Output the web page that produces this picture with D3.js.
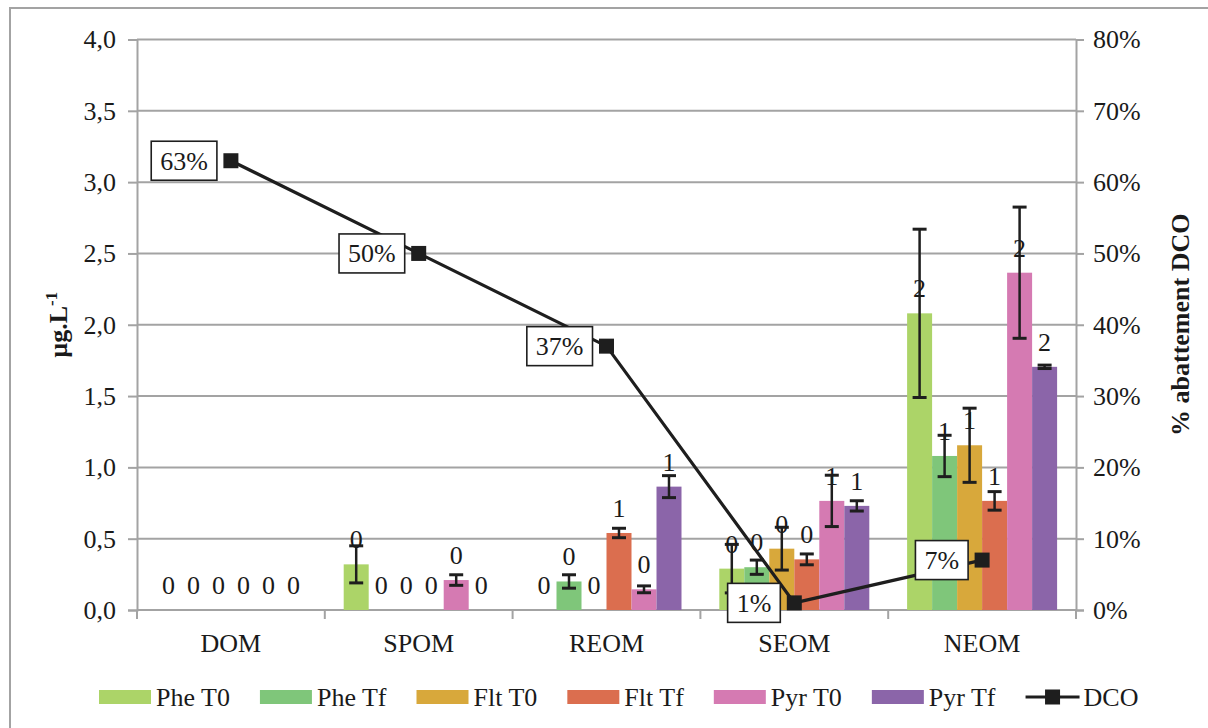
<!DOCTYPE html>
<html>
<head>
<meta charset="utf-8">
<script src="https://cdn.jsdelivr.net/npm/d3@7"></script>
<style>
  html, body { margin: 0; padding: 0; background: #fff; }
  svg { display: block; }
  text { font-family: "Liberation Serif", "Times New Roman", serif; fill: #1a1a1a; }
</style>
</head>
<body>
<svg id="chart" width="1208" height="728"></svg>
<script>
// ---------- DATA ----------
const categories = ["DOM", "SPOM", "REOM", "SEOM", "NEOM"];
const seriesNames = ["Phe T0", "Phe Tf", "Flt T0", "Flt Tf", "Pyr T0", "Pyr Tf"];
const seriesColors = ["#acd468", "#7fc67a", "#d8a83b", "#db6e4f", "#d57ab2", "#8b65a9"];

const pheT0 = [0, 0.32, 0, 0.29, 2.08];
const pheTf = [0, 0, 0.20, 0.30, 1.08];
const fltT0 = [0, 0, 0, 0.43, 1.155];
const fltTf = [0, 0, 0.54, 0.355, 0.765];
const pyrT0 = [0, 0.21, 0.145, 0.765, 2.365];
const pyrTf = [0, 0, 0.865, 0.73, 1.705];

const pheT0Err = [0, 0.13, 0, 0.17, 0.59];
const pheTfErr = [0, 0, 0.047, 0.05, 0.145];
const fltT0Err = [0, 0, 0, 0.15, 0.26];
const fltTfErr = [0, 0, 0.033, 0.038, 0.065];
const pyrT0Err = [0, 0.037, 0.024, 0.18, 0.46];
const pyrTfErr = [0, 0, 0.077, 0.036, 0.012];

const dco = [0.63, 0.50, 0.37, 0.01, 0.07];   // % abattement DCO

const leftTicks = [0, 0.5, 1.0, 1.5, 2.0, 2.5, 3.0, 3.5, 4.0];
const rightTicks = [0, 0.1, 0.2, 0.3, 0.4, 0.5, 0.6, 0.7, 0.8];

const leftTitle = "µg.L";
const leftTitleSup = "-1";
const rightTitle = "% abattement DCO";
const dcoName = "DCO";

// ---------- BUILD ----------
const values = [pheT0, pheTf, fltT0, fltTf, pyrT0, pyrTf];
const errors = [pheT0Err, pheTfErr, fltT0Err, fltTfErr, pyrT0Err, pyrTfErr];

const svg = d3.select("#chart");
const W = 1208, H = 728;
const m = { left: 137, right: 1076, top: 39.5, bottom: 610 };
const FS = 26;
const gray = "#a3a3a3";

// chart frame
svg.append("rect").attr("x", 10).attr("y", 8).attr("width", W + 20).attr("height", H + 20)
  .attr("fill", "#fff").attr("stroke", gray).attr("stroke-width", 2);

const x = d3.scaleBand().domain(categories).range([m.left, m.right]).paddingInner(0).paddingOuter(0);
const xs = d3.scaleBand().domain(seriesNames).range([0, x.bandwidth()]).paddingInner(0).paddingOuter(0.756);
const y = d3.scaleLinear().domain([0, 4]).range([m.bottom, m.top]);
const y2 = d3.scaleLinear().domain([0, 0.8]).range([m.bottom, m.top]);

const locale = d3.formatLocale({ decimal: ",", thousands: " ", grouping: [3], currency: ["", "€"] });
const fmt1 = locale.format(".1f");
const fmtPct = d3.format(".0%");
const fmtInt = d3.format(".0f");

// gridlines
svg.append("g").selectAll("line").data(leftTicks).join("line")
  .attr("x1", m.left).attr("x2", m.right)
  .attr("y1", d => y(d)).attr("y2", d => y(d))
  .attr("stroke", gray).attr("stroke-width", 2);

// left axis
const gL = svg.append("g").attr("transform", `translate(${m.left},0)`)
  .call(d3.axisLeft(y).tickValues(leftTicks).tickFormat(fmt1).tickSize(9).tickPadding(12));
gL.select(".domain").attr("stroke", gray).attr("stroke-width", 2);
gL.selectAll(".tick line").attr("stroke", gray).attr("stroke-width", 2);
gL.selectAll(".tick text").attr("font-size", FS).attr("font-family", "Liberation Serif").attr("fill", "#1a1a1a");

// right axis
const gR = svg.append("g").attr("transform", `translate(${m.right},0)`)
  .call(d3.axisRight(y2).tickValues(rightTicks).tickFormat(fmtPct).tickSize(8).tickPadding(9));
gR.select(".domain").attr("stroke", gray).attr("stroke-width", 2);
gR.selectAll(".tick line").attr("stroke", gray).attr("stroke-width", 2);
gR.selectAll(".tick text").attr("font-size", FS).attr("font-family", "Liberation Serif").attr("fill", "#1a1a1a");

// bottom axis line + boundary ticks
svg.append("line").attr("x1", m.left).attr("x2", m.right).attr("y1", m.bottom).attr("y2", m.bottom)
  .attr("stroke", gray).attr("stroke-width", 2);
const bounds = categories.map(c => x(c)).concat([x(categories[categories.length - 1]) + x.bandwidth()]);
svg.append("g").selectAll("line").data(bounds).join("line")
  .attr("x1", d => d).attr("x2", d => d).attr("y1", m.bottom).attr("y2", m.bottom + 9)
  .attr("stroke", gray).attr("stroke-width", 2);
svg.append("g").selectAll("text").data(categories).join("text")
  .attr("x", d => x(d) + x.bandwidth() / 2).attr("y", 652)
  .attr("text-anchor", "middle").attr("font-size", FS).text(d => d);

// bars
const barData = [];
values.forEach((arr, si) => arr.forEach((v, ci) => barData.push({
  s: seriesNames[si], si, c: categories[ci], v, e: errors[si][ci]
})));

svg.append("g").selectAll("rect").data(barData).join("rect")
  .attr("x", d => x(d.c) + xs(d.s))
  .attr("width", xs.bandwidth())
  .attr("y", d => y(d.v))
  .attr("height", d => y(0) - y(d.v))
  .attr("fill", d => seriesColors[d.si]);

// error bars
const eb = svg.append("g").attr("stroke", "#1e1e1e").attr("stroke-width", 2.5);
barData.filter(d => d.e > 0).forEach(d => {
  const cx = x(d.c) + xs(d.s) + xs.bandwidth() / 2;
  const y1 = y(d.v + d.e), y0 = y(Math.max(0, d.v - d.e));
  eb.append("line").attr("x1", cx).attr("x2", cx).attr("y1", y1).attr("y2", y0);
  [y1, y0].forEach(yy => eb.append("line").attr("x1", cx - 7).attr("x2", cx + 7)
    .attr("y1", yy).attr("y2", yy).attr("stroke-width", 3));
});

// bar labels
svg.append("g").selectAll("text").data(barData).join("text")
  .attr("x", d => x(d.c) + xs(d.s) + xs.bandwidth() / 2)
  .attr("y", d => y(d.v) - 16)
  .attr("text-anchor", "middle").attr("font-size", FS)
  .text(d => fmtInt(d.v));

// DCO line
const pts = dco.map((v, i) => ({ c: categories[i], v }));
const cxOf = d => x(d.c) + x.bandwidth() / 2;
svg.append("path").datum(pts)
  .attr("d", d3.line().x(cxOf).y(d => y2(d.v)))
  .attr("fill", "none").attr("stroke", "#1e1e1e").attr("stroke-width", 3.2);
svg.append("g").selectAll("rect").data(pts).join("rect")
  .attr("x", d => cxOf(d) - 7.5).attr("y", d => y2(d.v) - 7.5)
  .attr("width", 15).attr("height", 15).attr("fill", "#1e1e1e");

// DCO labels (boxed, left of marker)
const lg = svg.append("g");
pts.forEach(d => {
  const g = lg.append("g");
  const t = g.append("text").attr("font-size", FS).attr("text-anchor", "end")
    .attr("x", cxOf(d) - 14 - 9).attr("y", y2(d.v) + 9).text(fmtPct(d.v));
  const w = t.node().getComputedTextLength();
  g.insert("rect", "text")
    .attr("x", cxOf(d) - 14 - 9 - w - 9).attr("y", y2(d.v) - 19.5)
    .attr("width", w + 18).attr("height", 39)
    .attr("fill", "#fff").attr("stroke", "#1e1e1e").attr("stroke-width", 1.6);
});

// axis titles
svg.append("text")
  .attr("transform", `translate(67,${(m.top + m.bottom) / 2}) rotate(-90)`)
  .attr("text-anchor", "middle").attr("font-size", FS).attr("font-weight", "bold")
  .call(t => {
    t.append("tspan").text(leftTitle);
    t.append("tspan").attr("font-size", 17).attr("dy", -10).text(leftTitleSup);
  });
svg.append("text")
  .attr("transform", `translate(1189,${(m.top + m.bottom) / 2}) rotate(-90)`)
  .attr("text-anchor", "middle").attr("font-size", FS).attr("font-weight", "bold")
  .text(rightTitle);

// legend
const leg = svg.append("g");
let lx = 99;
const ly = 697;
seriesNames.forEach((s, i) => {
  leg.append("rect").attr("x", lx).attr("y", ly - 7).attr("width", 52).attr("height", 14)
    .attr("fill", seriesColors[i]);
  const t = leg.append("text").attr("x", lx + 57).attr("y", ly + 9).attr("font-size", FS).text(s);
  lx += 57 + t.node().getComputedTextLength() + 30;
});
leg.append("line").attr("x1", lx).attr("x2", lx + 54).attr("y1", ly).attr("y2", ly)
  .attr("stroke", "#1e1e1e").attr("stroke-width", 3.2);
leg.append("rect").attr("x", lx + 27 - 7.5).attr("y", ly - 7.5).attr("width", 15).attr("height", 15)
  .attr("fill", "#1e1e1e");
leg.append("text").attr("x", lx + 58).attr("y", ly + 9).attr("font-size", FS).text(dcoName);
</script>
</body>
</html>
